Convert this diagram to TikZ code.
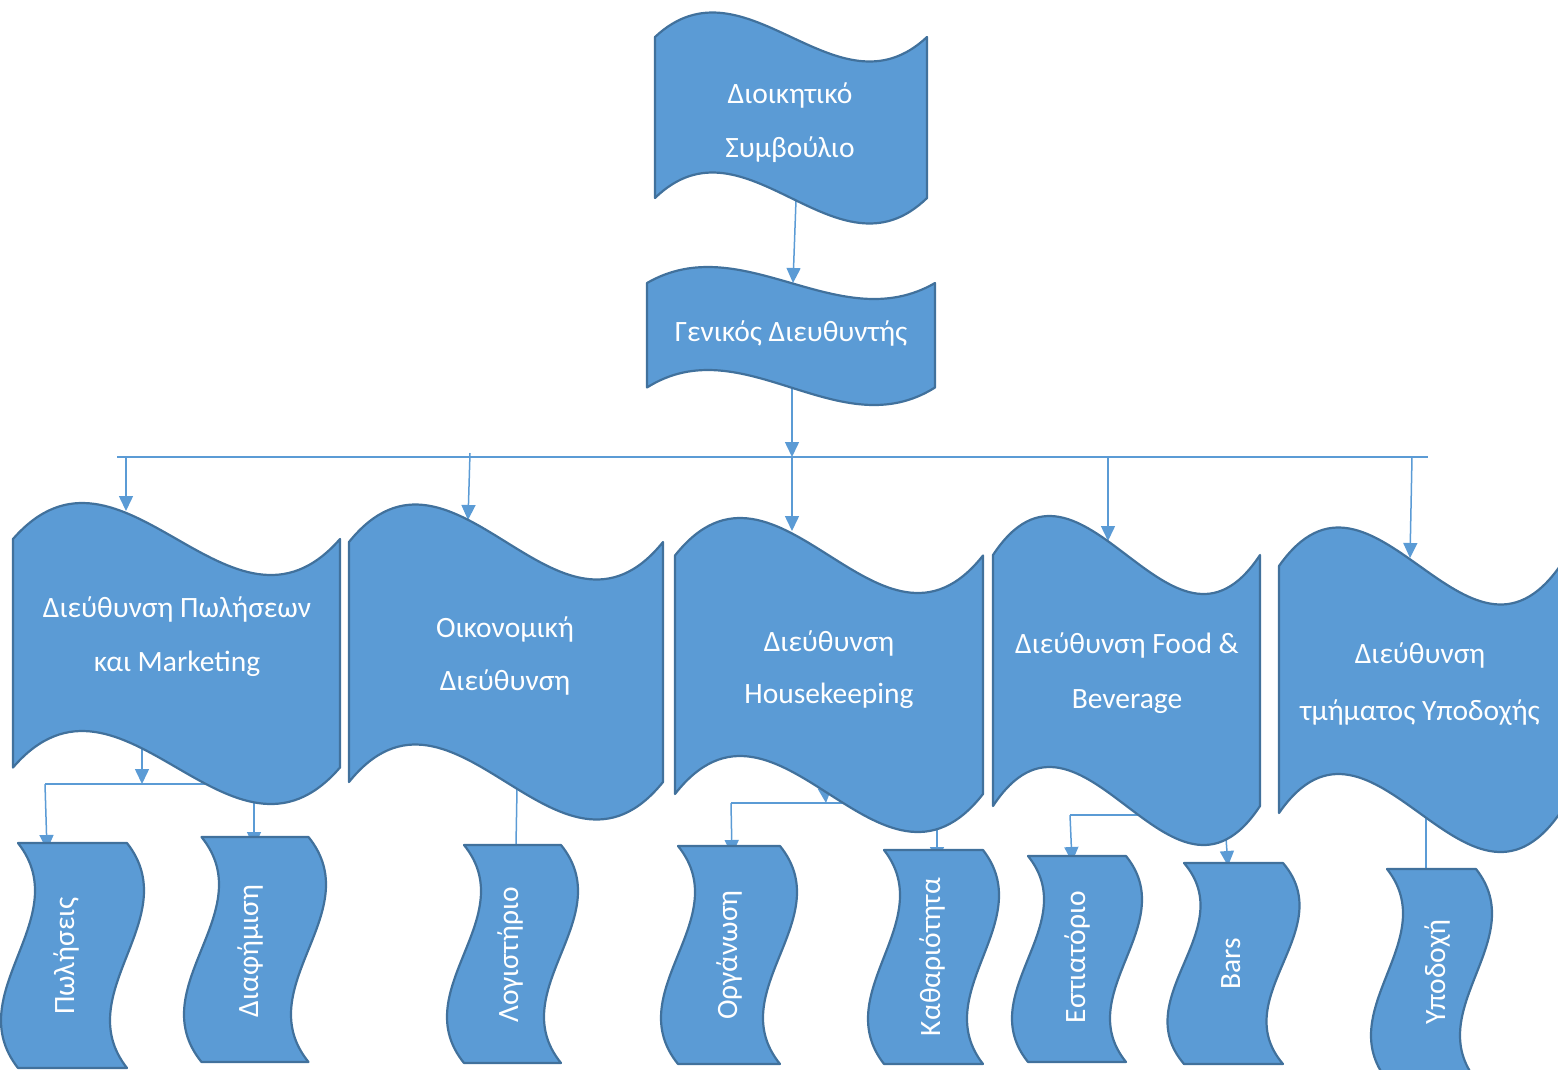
\documentclass[tikz,border=0pt]{standalone}
\usepackage{fontspec}
\setmainfont{Carlito}
\usetikzlibrary{arrows.meta}
\definecolor{wfill}{RGB}{91,155,213}
\definecolor{wline}{RGB}{65,113,156}
\definecolor{cline}{RGB}{91,155,213}
% horizontal wave: L R ytop Atop ybot Abot
\newcommand\hwave[6]{%
  \filldraw[waveshape] (#1,#3) .. controls ({#1+(#2-#1)/3},{#3-3.464*#4}) and ({#1+2*(#2-#1)/3},{#3+3.464*#4}) .. (#2,#3)
  -- (#2,#5) .. controls ({#1+2*(#2-#1)/3},{#5+3.464*#6}) and ({#1+(#2-#1)/3},{#5-3.464*#6}) .. (#1,#5) -- cycle;}
% vertical wave: L R T B A
\newcommand\vwave[5]{%
  \filldraw[waveshape] (#1,#3) -- (#2,#3) .. controls ({#2+3.464*#5},{#3+(#4-#3)/3}) and ({#2-3.464*#5},{#3+2*(#4-#3)/3}) .. (#2,#4)
  -- (#1,#4) .. controls ({#1-3.464*#5},{#3+2*(#4-#3)/3}) and ({#1+3.464*#5},{#3+(#4-#3)/3}) .. (#1,#3) -- cycle;}
\tikzset{
  waveshape/.style={fill=wfill, draw=wline, line width=2.2pt, line join=round},
  conn/.style={draw=cline, line width=1.5pt},
  arr/.style={conn, -{Triangle[length=15pt,width=14pt]}},
  lbl/.style={text=white, font=\fontsize{29.5}{54}\selectfont, inner sep=0pt, anchor=base},
  vlbl/.style={lbl, rotate=90}
}
\begin{document}
\begin{tikzpicture}[x=1pt,y=-1pt]
\useasboundingbox (0,0) rectangle (1558,1069);
% ---- connection points
\coordinate (t1s) at (796,200);  \coordinate (t2n) at (793,283);
\coordinate (t2s) at (792,388);  \coordinate (busc) at (792,457);
\coordinate (busl) at (117,457); \coordinate (busr) at (1428,457);
\coordinate (d1a) at (126,457);  \coordinate (s1n) at (126,511);
\coordinate (d2a) at (470,453);  \coordinate (s2n) at (468,520);
\coordinate (s3n) at (792,531);
\coordinate (d4a) at (1108,457); \coordinate (s4n) at (1108,541);
\coordinate (d5a) at (1412,457); \coordinate (s5n) at (1410,558);
% S1 children
\coordinate (s1s) at (142,748);  \coordinate (h1m) at (142,784);
\coordinate (h1l) at (45,784);   \coordinate (h1r) at (254,784);
\coordinate (b1n) at (47,850);
\coordinate (s1s2) at (254,802); \coordinate (b2n) at (254,847);
% S2 child
\coordinate (s2s) at (517,789);  \coordinate (b3n) at (516,845);
% S3 children
\coordinate (s3s) at (825,791);  \coordinate (h3m) at (826,803);
\coordinate (h3l) at (731,803);  \coordinate (h3r) at (860,803);
\coordinate (b4n) at (732,855);
\coordinate (s3s2) at (937,829); \coordinate (b5n) at (937,862);
% S4 children
\coordinate (h4l) at (1070,815); \coordinate (h4r) at (1160,815);
\coordinate (b6n) at (1072,862);
\coordinate (s4s2) at (1226,838); \coordinate (b7n) at (1228,866);
% S5 child
\coordinate (s5s) at (1426,817); \coordinate (b8n) at (1426,869);
% ---- connectors (behind the shapes)
\draw[arr] (t1s) -- (t2n);
\draw[arr] (t2s) -- (busc);
\draw[conn] (busl) -- (busr);
\draw[arr] (d1a) -- (s1n);
\draw[arr] (d2a) -- (s2n);
\draw[arr] (busc) -- (s3n);
\draw[arr] (d4a) -- (s4n);
\draw[arr] (d5a) -- (s5n);
\draw[arr] (s1s) -- (h1m);
\draw[conn] (h1l) -- (h1r);
\draw[arr] (h1l) -- (b1n);
\draw[arr] (s1s2) -- (b2n);
\draw[conn] (s2s) -- (b3n);
\draw[arr] (s3s) -- (h3m);
\draw[conn] (h3l) -- (h3r);
\draw[arr] (h3l) -- (b4n);
\draw[arr] (s3s2) -- (b5n);
\draw[conn] (h4l) -- (h4r);
\draw[arr] (h4l) -- (b6n);
\draw[arr] (s4s2) -- (b7n);
\draw[conn] (s5s) -- (b8n);
% ---- shapes
\hwave{655}{927}{37}{24.5}{198}{25.5}
\hwave{647}{935}{283}{16}{387.5}{17.5}
\hwave{13}{340}{539}{36}{767.5}{36.5}
\hwave{349}{663}{542}{37.5}{782}{37.5}
\hwave{675}{983}{555.5}{37.5}{794}{38}
\hwave{993}{1260}{555}{39}{806}{39}
\hwave{1279}{1560}{566}{38.5}{813}{39}
\vwave{18}{127}{843}{1068}{17}
\vwave{201.5}{308.5}{837}{1062}{17.5}
\vwave{464}{561}{845}{1063}{17}
\vwave{678}{780}{846}{1064}{17}
\vwave{884}{983}{850}{1064}{16}
\vwave{1028}{1126}{856}{1062}{16}
\vwave{1184}{1283}{863}{1064}{16.5}
\vwave{1387}{1476}{869}{1080}{16}
% ---- texts
\node[lbl] (t1a) at (790,103) {Διοικητικό};
\node[lbl] (t1b) at (790,157) {Συμβούλιο};
\node[lbl] (t2)  at (791,341) {Γενικός Διευθυντής};
\node[lbl] (s1a) at (177,617) {Διεύθυνση Πωλήσεων};
\node[lbl] (s1b) at (177,671) {και Marketing};
\node[lbl] (s2a) at (505,637) {Οικονομική};
\node[lbl] (s2b) at (505,690) {Διεύθυνση};
\node[lbl] (s3a) at (829,651) {Διεύθυνση};
\node[lbl] (s3b) at (829,703) {Housekeeping};
\node[lbl] (s4a) at (1127,653) {Διεύθυνση Food \&};
\node[lbl] (s4b) at (1127,708) {Beverage};
\node[lbl] (s5a) at (1420,663) {Διεύθυνση};
\node[lbl] (s5b) at (1420,720) {τμήματος Υποδοχής};
\node[vlbl] (b1) at (74,956)   {Πωλήσεις};
\node[vlbl] (b2) at (258,951)  {Διαφήμιση};
\node[vlbl] (b3) at (518,955)  {Λογιστήριο};
\node[vlbl] (b4) at (737,955)  {Οργάνωση};
\node[vlbl] (b5) at (940,957)  {Καθαριότητα};
\node[vlbl] (b6) at (1085,957) {Εστιατόριο};
\node[vlbl] (b7) at (1240,964) {Bars};
\node[vlbl] (b8) at (1445,972) {Υποδοχή};
\end{tikzpicture}
\end{document}
